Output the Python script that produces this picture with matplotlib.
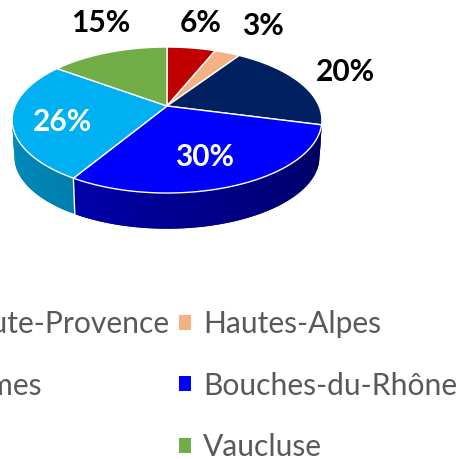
import numpy as np
import matplotlib
matplotlib.use('Agg')
import matplotlib.pyplot as plt
from matplotlib.patches import Patch

plt.rcParams['font.family'] = ['Lato', 'DejaVu Sans']

names = ['Alpes-de-Haute-Provence', 'Hautes-Alpes', 'Alpes-Maritimes',
         'Bouches-du-Rhône', 'Var', 'Vaucluse']
values = [6.1, 3.2, 19.8, 29.5, 26.5, 14.9]
colors = ['#C00000', '#F4B183', '#002060', '#0000FF', '#00B0F0', '#70AD47']
# wall shade at the start and end of each slice, going clockwise
wall_start = [0.6, 0.6, 0.37, 0.37, 0.72, 0.85]
wall_end = [0.6, 0.6, 0.37, 0.66, 0.87, 0.85]
label_colors = ['black', 'black', 'black', 'white', 'white', 'black']
label_xy = [(201, 23), (263, 26), (345, 72), (205, 157), (63, 122), (101, 23)]

# tilted disc seen in perspective
cx, cy = 167, 106
rx, ry, k = 152, 70.3, 0.192
depth = 37


def project(t, shrink=1.0, dy=0):
    w = 1 + k * np.sin(t)
    x = cx + shrink * rx * np.cos(t) / w
    y = cy + dy - shrink * ry * np.sin(t) / w
    return x, y


fig = plt.figure(figsize=(4.6, 4.59), dpi=100)
ax = fig.add_axes([0, 0, 1, 1])
ax.set_xlim(0, 460)
ax.set_ylim(459, 0)
ax.axis('off')

fracs = np.cumsum([0] + values) / sum(values)
angles = np.pi / 2 - 2 * np.pi * fracs

# side wall first, strips overlap so no seams show
for i in range(len(values)):
    ts = np.linspace(angles[i], angles[i + 1], 61)
    base = np.array(matplotlib.colors.to_rgb(colors[i]))
    for j in range(len(ts) - 1):
        t = ts[j:j + 3]
        if np.sin(t.mean()) > 0.05:
            continue
        shade = wall_start[i] + (wall_end[i] - wall_start[i]) * j / (len(ts) - 2)
        x1, y1 = project(t)
        x2, y2 = project(t, 0.985, depth)
        ax.fill(np.r_[x1, x2[::-1]], np.r_[y1, y2[::-1]], color=base * shade,
                lw=0, zorder=2)
    if np.sin(angles[i]) < -0.3:
        x1, y1 = project(angles[i])
        x2, y2 = project(angles[i], 0.985, depth)
        ax.plot([x1, x2], [y1, y2], color='white', lw=1, zorder=3)

# top of the pie
for i in range(len(values)):
    ts = np.linspace(angles[i], angles[i + 1], 120)
    x, y = project(ts)
    ax.fill(np.r_[cx, x], np.r_[cy, y], facecolor=colors[i], edgecolor='white',
            lw=1, zorder=4)

for v, c, (lx, ly) in zip(values, label_colors, label_xy):
    ax.text(lx, ly, f'{v:.0f}%', color=c, fontsize=21.5, fontweight='bold',
            ha='center', va='center', zorder=5)

# legend fills column by column
order = [0, 2, 4, 1, 3, 5]
handles = [Patch(facecolor=colors[i], edgecolor='none', label=names[i]) for i in order]
leg = ax.legend(handles=handles, ncol=2, loc='upper right', bbox_to_anchor=(457, 310),
                bbox_transform=ax.transData, frameon=False, fontsize=21.6,
                labelcolor='#595959', borderpad=0, borderaxespad=0,
                handlelength=0.38, handleheight=0.38, handletextpad=0.4,
                columnspacing=0.32, labelspacing=1.12)

fig.savefig('out.png', dpi=100)
